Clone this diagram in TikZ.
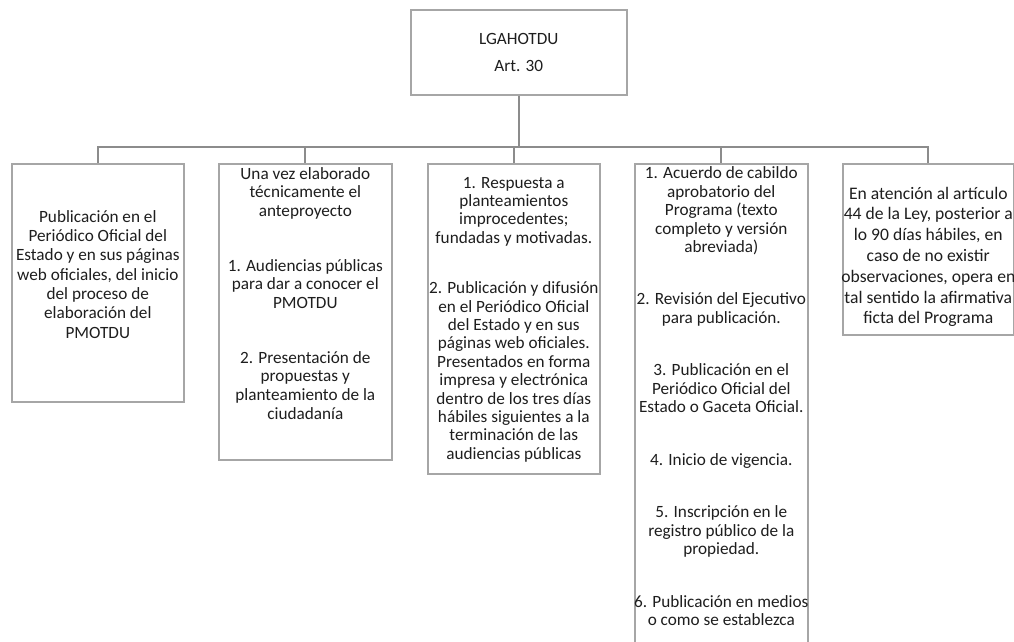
\documentclass[tikz,border=0pt]{standalone}
\usepackage{fontspec}
\setmainfont{Carlito}
\usepackage{xcolor}
\usepackage{tikz}
\usetikzlibrary{calc,positioning}
\definecolor{boxline}{HTML}{A6A6A6}
\definecolor{linkline}{HTML}{8C8C8C}
\definecolor{textmain}{HTML}{1E1E1E}
\newlength{\pxu}
\setlength{\pxu}{0.75pt}
% width, height, inner position, top pad, lines
\newcommand{\stagetext}[5]{\parbox[c][#2\pxu][#3]{#1\pxu}{\vspace*{#4}\makebox[\linewidth]{\begin{tabular}{@{}c@{}}#5\end{tabular}}}}

\begin{document}
\begin{tikzpicture}[
  x=0.75pt, y=-0.75pt,
  stagebox/.style={
    rectangle, draw=boxline, line width=1.2pt, fill=white,
    inner sep=0pt, anchor=north west, text=textmain,
    font=\fontsize{12.9}{14}\selectfont,
  },
  link/.style={draw=linkline, line width=1.6pt},
]
\useasboundingbox (0,0) rectangle (1014,642);
\clip (0,0) rectangle (1014,642);

% Head - law article
\node[stagebox, font=\fontsize{12.9}{20.25}\selectfont] (law) at (410,9) {\stagetext{216}{85}{c}{0pt}{LGAHOTDU\\Art. 30}};

% Stage 1 - start notice
\node[stagebox, font=\fontsize{12.9}{14.5}\selectfont] (s1) at (11,163) {\stagetext{172}{238}{c}{-10pt}{Publicación en el\\Periódico Oficial del\\Estado y en sus páginas\\web oficiales, del inicio\\del proceso de\\elaboración del\\PMOTDU}};

% Stage 2 - public hearings
\node[stagebox] (s2) at (218,163) {\stagetext{173}{296}{t}{1.6pt}{Una vez elaborado\\técnicamente el\\anteproyecto\\[27pt]1. Audiencias públicas\\para dar a conocer el\\PMOTDU\\[27pt]2. Presentación de\\propuestas y\\planteamiento de la\\ciudadanía}};

% Stage 3 - answers and publication
\node[stagebox, font=\fontsize{12.9}{13.8}\selectfont] (s3) at (427,163) {\stagetext{172}{310}{t}{8.6pt}{1. Respuesta a\\planteamientos\\improcedentes;\\fundadas y motivadas.\\[24pt]2. Publicación y difusión\\en el Periódico Oficial\\del Estado y en sus\\páginas web oficiales.\\Presentados en forma\\impresa y electrónica\\dentro de los tres días\\hábiles siguientes a la\\terminación de las\\audiencias públicas}};

% Stage 4 - approval and entry into force
\node[stagebox, font=\fontsize{12.9}{13.8}\selectfont] (s4) at (634,163) {\stagetext{173}{500}{t}{1.6pt}{1. Acuerdo de cabildo\\aprobatorio del\\Programa (texto\\completo y versión\\abreviada)\\[25.6pt]2. Revisión del Ejecutivo\\para publicación.\\[25.6pt]3. Publicación en el\\Periódico Oficial del\\Estado o Gaceta Oficial.\\[25.6pt]4. Inicio de vigencia.\\[25.6pt]5. Inscripción en le\\registro público de la\\propiedad.\\[25.6pt]6. Publicación en medios\\o como se establezca}};

% Stage 5 - afirmativa ficta
\node[stagebox, font=\fontsize{13.2}{15.6}\selectfont] (s5) at (842,163) {\stagetext{171}{171}{c}{12pt}{En atención al artículo\\44 de la Ley, posterior a\\lo 90 días hábiles, en\\caso de no existir\\observaciones, opera en\\tal sentido la afirmativa\\ficta del Programa}};

% Connectors
\coordinate (bus) at ($(law.south)+(0,51)$);
\draw[link] (law.south) -- (bus);
\foreach \s in {s1,s2,s3,s4,s5}
  \draw[link] (bus) -| (\s.north);

\end{tikzpicture}
\end{document}
